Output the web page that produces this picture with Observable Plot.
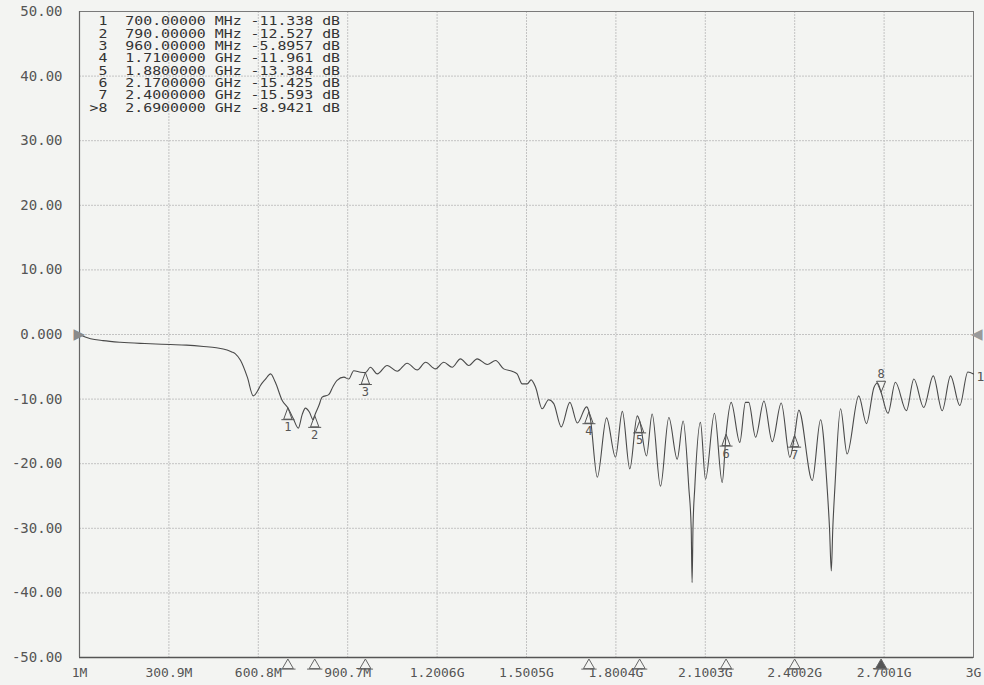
<!DOCTYPE html>
<html><head><meta charset="utf-8">
<script src="https://cdn.jsdelivr.net/npm/d3@7"></script>
<script src="https://cdn.jsdelivr.net/npm/@observablehq/plot@0.6"></script>
<style>
html,body{margin:0;padding:0;background:#f3f4f2;overflow:hidden;}
svg text{white-space:pre;}
</style></head><body><div id="chart"></div>
<script>
// ---- axes ----
const xTicks = [1, 300.9, 600.8, 900.7, 1200.6, 1500.5, 1800.4, 2100.3, 2400.2, 2700.1, 3000];
const xTickLabels = ["1M","300.9M","600.8M","900.7M","1.2006G","1.5005G","1.8004G","2.1003G","2.4002G","2.7001G","3G"];
const yTicks = [50,40,30,20,10,0,-10,-20,-30,-40,-50];
const yTickLabels = ["50.00","40.00","30.00","20.00","10.00","0.000","-10.00","-20.00","-30.00","-40.00","-50.00"];
const refLevelDb = 0;

// ---- trace (frequency in MHz, S11 in dB) ----
const traceMHz = [1,20,38,80,138,220,306,360,417,460,496,512,524,541,564,584,600,608,625,642,658,681,700,718,735,748,759,772,785,790,804,815,837,852,865,888,904,921,944,960,977,1000,1033,1067,1100,1134,1162,1195,1223,1251,1279,1307,1335,1369,1397,1424,1452,1469,1486,1503,1516,1531,1553,1575,1592,1617,1646,1671,1702,1710,1715,1738,1769,1799,1822,1847,1872,1880,1903,1922,1950,1978,2006,2026,2045,2053,2056,2059,2065,2084,2101,2131,2157,2170,2187,2216,2235,2246,2269,2297,2325,2355,2384,2400,2414,2459,2487,2509,2517,2523,2528,2535,2554,2576,2615,2641,2666,2678,2690,2713,2738,2775,2800,2833,2865,2895,2923,2954,2981,3000];
const traceDb = [0.0,-0.4,-0.65,-0.95,-1.2,-1.4,-1.55,-1.65,-1.85,-2.05,-2.4,-2.7,-3.0,-4.0,-6.6,-9.5,-8.6,-7.9,-6.9,-6.1,-7.4,-10.2,-11.34,-13.0,-14.5,-12.4,-11.4,-12.0,-13.2,-12.53,-11.0,-9.7,-9.3,-8.0,-7.1,-6.6,-6.9,-5.6,-5.84,-5.9,-5.07,-6.1,-4.8,-5.69,-4.44,-5.48,-4.29,-5.32,-4.29,-5.07,-3.77,-4.8,-3.77,-4.65,-4.03,-5.32,-5.69,-6.1,-7.64,-7.64,-7.02,-8.17,-11.5,-10.1,-10.7,-14.3,-10.5,-13.7,-11.2,-11.96,-13.1,-22.1,-12.9,-19.0,-11.9,-20.8,-12.6,-13.38,-18.8,-12.3,-23.5,-12.85,-19.3,-13.4,-23.7,-30.0,-38.4,-30.0,-23.7,-13.6,-22.4,-12.2,-22.9,-15.43,-10.5,-16.7,-10.5,-10.5,-15.9,-10.3,-16.6,-10.6,-19.0,-15.59,-11.7,-22.6,-13.2,-23.7,-30.0,-36.6,-30.0,-23.7,-11.5,-18.5,-9.5,-13.8,-8.2,-7.5,-8.94,-12.2,-7.4,-11.8,-6.9,-11.3,-6.4,-11.8,-6.4,-11.0,-5.8,-6.1];
const traceName = "1";

// ---- markers ----
const markerIds = ["1","2","3","4","5","6","7","8"];
const markerMHz = [700,790,960,1710,1880,2170,2400,2690];
const markerDb = [-11.338,-12.527,-5.8957,-11.961,-13.384,-15.425,-15.593,-8.9421];
const markerFreqText = ["700.00000","790.00000","960.00000","1.7100000","1.8800000","2.1700000","2.4000000","2.6900000"];
const markerUnit = ["MHz","MHz","MHz","GHz","GHz","GHz","GHz","GHz"];
const markerValText = ["-11.338","-12.527","-5.8957","-11.961","-13.384","-15.425","-15.593","-8.9421"];
const activeMarker = "8";

const trace = traceMHz.map((f, i) => ({f, db: traceDb[i]}));
const markers = markerIds.map((id, i) => ({id, f: markerMHz[i], db: markerDb[i], active: id === activeMarker}));
const NB = "\u00a0";
const tableText = markers.map((m, i) =>
  (m.active ? ">" : NB) + m.id + NB + NB + markerFreqText[i] + NB + markerUnit[i] + NB + markerValText[i] + NB + "dB"
).join("\n");

// analyzer-style marker glyphs: apex on the point, triangle + base rule
const markerUp = {draw(ctx, size) {
  const r = Math.sqrt(size / Math.PI), h = 2.2 * r, w = 0.8 * r, u = 1.25 * r;
  ctx.moveTo(0, 0); ctx.lineTo(w, h); ctx.lineTo(-w, h); ctx.closePath();
  ctx.moveTo(-u, h + 0.5); ctx.lineTo(u, h + 0.5);
}};
const markerDown = {draw(ctx, size) {
  const r = Math.sqrt(size / Math.PI), h = 2.2 * r, w = 0.9 * r;
  ctx.moveTo(0, 0); ctx.lineTo(w, -h); ctx.lineTo(-w, -h); ctx.closePath();
}};
const axisMarker = {draw(ctx, size) {
  const r = Math.sqrt(size / Math.PI), h = 2 * r, w = 1.15 * r, u = 1.6 * r;
  ctx.moveTo(0, 0); ctx.lineTo(w, h); ctx.lineTo(-w, h); ctx.closePath();
  ctx.moveTo(-u, h + 0.5); ctx.lineTo(u, h + 0.5);
}};

const mono = "DejaVu Sans Mono";
const ink = "#555";

const chart = Plot.plot({
  width: 984,
  height: 685,
  marginLeft: 79,
  marginRight: 11,
  marginTop: 11,
  marginBottom: 28,
  x: {type: "linear", domain: [1, 3000]},
  y: {type: "linear", domain: [-50, 50]},
  style: {background: "#f3f4f2", fontFamily: mono, overflow: "visible"},
  marks: [
    Plot.gridX(xTicks, {stroke: "#c3c3c3", strokeOpacity: 1, strokeDasharray: "2,1"}),
    Plot.gridY(yTicks, {stroke: "#c3c3c3", strokeOpacity: 1, strokeDasharray: "2,1"}),
    Plot.frame({stroke: "#7a7a7a"}),
    Plot.axisX(xTicks, {tickSize: 0, tickPadding: 10, label: null, fontSize: 13, fill: ink, fontFamily: mono,
      tickFormat: d => xTickLabels[xTicks.indexOf(d)]}),
    Plot.axisY(yTicks, {tickSize: 0, tickPadding: 17, label: null, fontSize: 14, fill: ink, fontFamily: mono,
      tickFormat: d => yTickLabels[yTicks.indexOf(d)]}),
    Plot.ruleY([-50], {stroke: "#555", strokeWidth: 1.6}),
    Plot.ruleX([1], {stroke: "#666", strokeWidth: 1.2}),
    // marker table
    Plot.text([tableText], {text: d => d, frameAnchor: "top-left", dx: 10, dy: 5, textAnchor: "start",
      lineAnchor: "top", lineHeight: 1.03, fontSize: 12, fill: "#333", fontFamily: mono}),
    // trace
    Plot.line(trace, {x: "f", y: "db", stroke: "#4a4a4a", strokeWidth: 1.1, curve: "monotone-x"}),
    // reference level arrows
    Plot.text([refLevelDb], {y: d => d, frameAnchor: "left", text: () => "\u25B6", dx: -6, fill: "#8a8a8a", fontSize: 15, fontFamily: "DejaVu Sans"}),
    Plot.text([refLevelDb], {y: d => d, frameAnchor: "right", text: () => "\u25C0", dx: 9, fill: "#9a9a9a", fontSize: 15, fontFamily: "DejaVu Sans"}),
    // trace name at right end
    Plot.text([trace[trace.length - 1]], {x: "f", y: "db", text: () => traceName, dx: 3, dy: 3, textAnchor: "start", fontSize: 13, fill: ink, fontFamily: mono}),
    // markers on trace (below)
    Plot.dot(markers.filter(m => !m.active), {x: "f", y: "db", symbol: markerUp, r: 5.2, fill: "none", stroke: ink, strokeWidth: 1}),
    Plot.text(markers.filter(m => !m.active), {x: "f", y: "db", text: "id", lineAnchor: "top", dy: 15, fontSize: 12, fill: ink, fontFamily: mono}),
    // active marker (above)
    Plot.dot(markers.filter(m => m.active), {x: "f", y: "db", symbol: markerDown, r: 5, fill: "none", stroke: ink, strokeWidth: 1}),
    Plot.text(markers.filter(m => m.active), {x: "f", y: "db", text: "id", lineAnchor: "bottom", dy: -14, fontSize: 12, fill: ink, fontFamily: mono}),
    // marker indicators under x axis
    Plot.dot(markers, {x: "f", frameAnchor: "bottom", symbol: axisMarker, r: 4.8, dy: 1.5,
      stroke: "#666", strokeWidth: 1, fill: m => m.active ? "#555" : "none"})
  ]
});
// widen the table's monospace text to match the analyzer's wide font
const tableText_el = Array.from(chart.querySelectorAll("text")).find(t => t.textContent.includes("MHz"));
if (tableText_el) {
  const wrap = document.createElementNS("http://www.w3.org/2000/svg", "g");
  tableText_el.parentNode.insertBefore(wrap, tableText_el);
  wrap.appendChild(tableText_el);
  wrap.setAttribute("transform", "translate(79,0) scale(1.24,1) translate(-79,0)");
}
document.getElementById("chart").appendChild(chart);
</script></body></html>
